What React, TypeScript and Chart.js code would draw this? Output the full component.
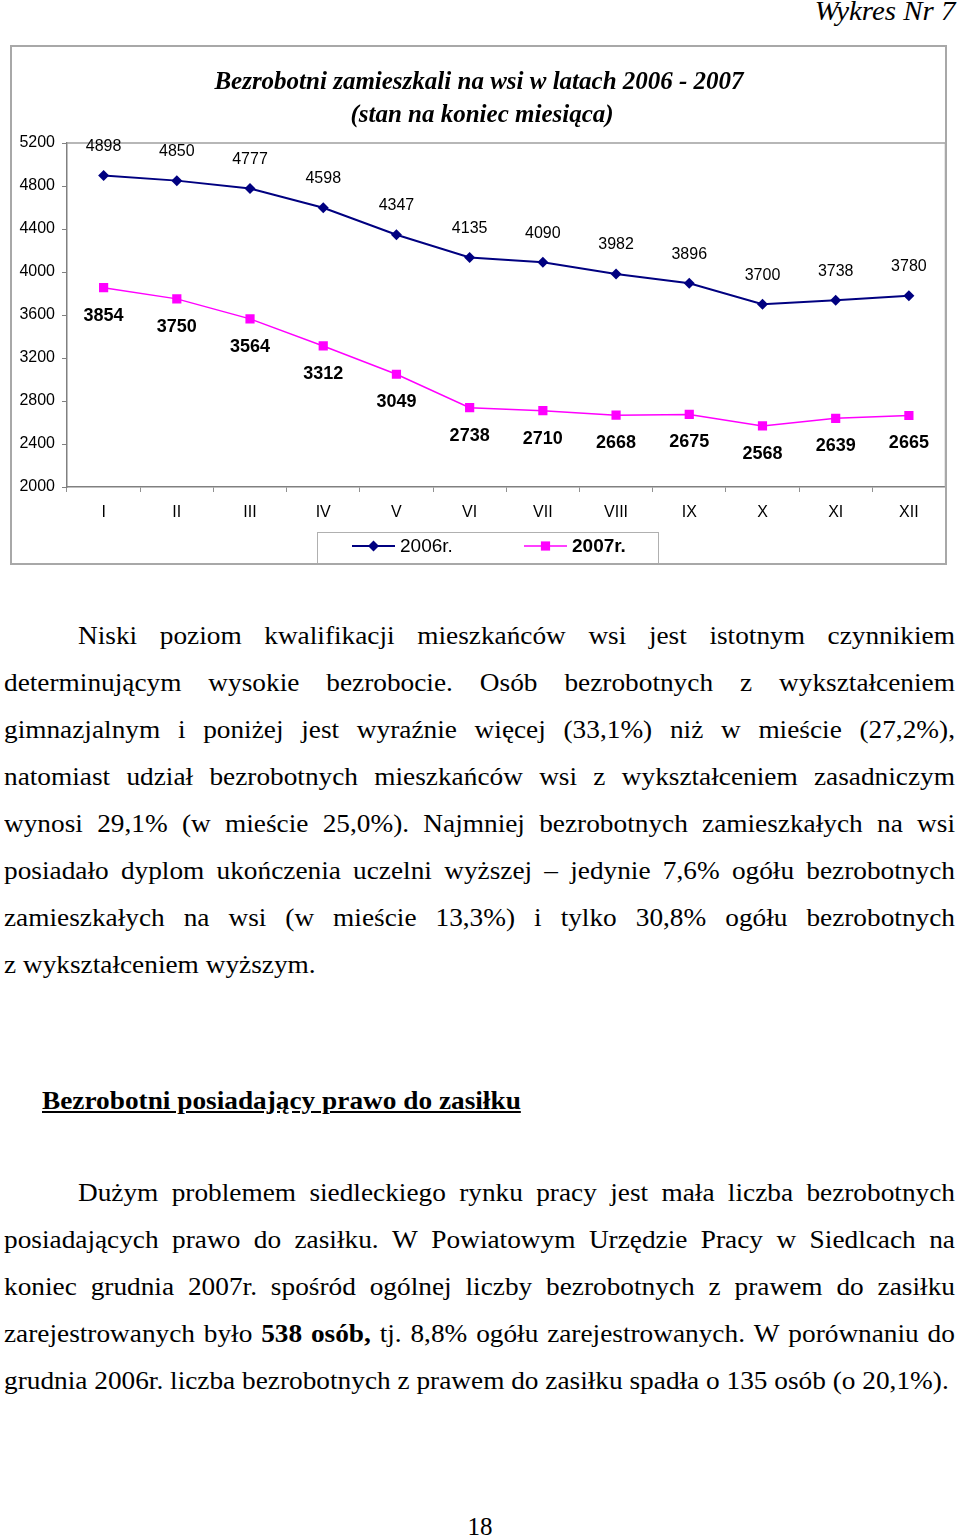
import React, { useEffect, useRef } from "react";
import { Chart, registerables } from "chart.js";

Chart.register(...registerables);

// ---------- chart data ----------
const months = ["I", "II", "III", "IV", "V", "VI", "VII", "VIII", "IX", "X", "XI", "XII"];
const series2006 = [4898, 4850, 4777, 4598, 4347, 4135, 4090, 3982, 3896, 3700, 3738, 3780];
const series2007 = [3854, 3750, 3564, 3312, 3049, 2738, 2710, 2668, 2675, 2568, 2639, 2665];
const seriesLabels = ["2006r.", "2007r."];
const chartTitle = ["Bezrobotni zamieszkali na wsi w latach 2006 - 2007", "(stan na koniec miesiąca)"];
const yMin = 2000;
const yMax = 5200;
const yStep = 400;

// ---------- page text ----------
const para1 = [
  "Niski poziom kwalifikacji mieszkańców wsi jest istotnym czynnikiem",
  "determinującym wysokie bezrobocie. Osób bezrobotnych z wykształceniem",
  "gimnazjalnym i poniżej jest wyraźnie więcej (33,1%) niż w mieście (27,2%),",
  "natomiast udział bezrobotnych mieszkańców wsi z wykształceniem zasadniczym",
  "wynosi 29,1% (w mieście 25,0%). Najmniej bezrobotnych zamieszkałych na wsi",
  "posiadało dyplom ukończenia uczelni wyższej – jedynie 7,6% ogółu bezrobotnych",
  "zamieszkałych na wsi (w mieście 13,3%) i tylko 30,8% ogółu bezrobotnych",
  "z wykształceniem wyższym.",
];
const heading = "Bezrobotni posiadający prawo do zasiłku";
const para2 = [
  "Dużym problemem siedleckiego rynku pracy jest mała liczba bezrobotnych",
  "posiadających prawo do zasiłku. W Powiatowym Urzędzie Pracy w Siedlcach na",
  "koniec grudnia 2007r. spośród ogólnej liczby bezrobotnych z prawem do zasiłku",
  "zarejestrowanych było **538** **osób,** tj. 8,8% ogółu zarejestrowanych. W porównaniu do",
  "grudnia 2006r. liczba bezrobotnych z prawem do zasiłku spadła o 135 osób (o 20,1%).",
];

const SANS = '"Liberation Sans", Arial, sans-serif';
const SERIF = '"Liberation Serif", "Times New Roman", serif';
const SX = 1.092; // horizontal stretch of the scanned text

function renderWord(w: string, i: number) {
  const m = w.match(/^\*\*(.*)\*\*$/);
  if (m) return <b key={i}>{m[1]}</b>;
  return <span key={i}>{w}</span>;
}

function TextLine({ text, justify, indent }: { text: string; justify: boolean; indent?: number }) {
  const words = text.split(" ");
  if (justify) {
    return (
      <div
        style={{
          display: "flex",
          justifyContent: "space-between",
          columnGap: 3,
          height: 47,
          lineHeight: "47px",
          paddingLeft: indent || 0,
          whiteSpace: "nowrap",
        }}
      >
        {words.map((w, i) => renderWord(w, i))}
      </div>
    );
  }
  return (
    <div style={{ height: 47, lineHeight: "47px", paddingLeft: indent || 0, whiteSpace: "pre" }}>
      {words.map((w, i) => (
        <React.Fragment key={i}>
          {i > 0 ? " " : ""}
          {renderWord(w, i)}
        </React.Fragment>
      ))}
    </div>
  );
}

function Paragraph({ lines, top }: { lines: string[]; top: number }) {
  const inner = 951 / SX;
  return (
    <div
      style={{
        position: "absolute",
        left: 4,
        top,
        width: inner,
        transform: `scaleX(${SX})`,
        transformOrigin: "left top",
      }}
    >
      {lines.map((l, i) => (
        <TextLine key={i} text={l} justify={i < lines.length - 1} indent={i === 0 ? 74 / SX : 0} />
      ))}
    </div>
  );
}

function drawMarker(ctx: CanvasRenderingContext2D, style: string, x: number, y: number, r: number, color: string) {
  ctx.save();
  ctx.fillStyle = color;
  ctx.beginPath();
  if (style === "rectRot") {
    ctx.moveTo(x, y - r);
    ctx.lineTo(x + r, y);
    ctx.lineTo(x, y + r);
    ctx.lineTo(x - r, y);
  } else {
    const h = r * Math.SQRT1_2;
    ctx.rect(x - h, y - h, 2 * h, 2 * h);
  }
  ctx.closePath();
  ctx.fill();
  ctx.restore();
}

const FRAME_W = 936;

const decorPlugin = {
  id: "decor",
  afterDatasetsDraw(chart: any) {
    const { ctx, chartArea } = chart;
    ctx.save();
    // top and right border of plot area
    ctx.strokeStyle = "#a0a0a0";
    ctx.lineWidth = 1.5;
    ctx.beginPath();
    ctx.moveTo(chartArea.left, chartArea.top);
    ctx.lineTo(chartArea.right, chartArea.top);
    ctx.lineTo(chartArea.right, chartArea.bottom);
    ctx.stroke();

    // data labels
    ctx.fillStyle = "#000";
    ctx.textAlign = "center";
    ctx.textBaseline = "middle";
    chart.data.datasets.forEach((ds: any, di: number) => {
      const meta = chart.getDatasetMeta(di);
      ctx.font = di === 0 ? `16px ${SANS}` : `bold 18px ${SANS}`;
      meta.data.forEach((pt: any, i: number) => {
        const v = ds.data[i];
        const y = di === 0 ? pt.y - 29 : pt.y + 28;
        ctx.fillText(String(v), pt.x, y);
      });
    });

    // title
    ctx.font = `italic bold 25px ${SERIF}`;
    ctx.textBaseline = "alphabetic";
    const cx = FRAME_W / 2;
    ctx.fillText(chartTitle[0], cx, 43);
    ctx.fillText(chartTitle[1], cx + 3, 76);

    // legend
    const bw = 341;
    const bh = 32;
    const bx = 306;
    const by = chart.height - bh;
    ctx.strokeStyle = "#b0b0b0";
    ctx.lineWidth = 1;
    ctx.strokeRect(bx + 0.5, by + 0.5, bw, bh);
    const ly = by + 14;
    const starts = [35, 207];
    chart.data.datasets.forEach((ds: any, di: number) => {
      const sx = bx + starts[di];
      ctx.strokeStyle = ds.borderColor;
      ctx.lineWidth = ds.borderWidth;
      ctx.beginPath();
      ctx.moveTo(sx, ly);
      ctx.lineTo(sx + 43, ly);
      ctx.stroke();
      drawMarker(ctx, ds.pointStyle, sx + 21.5, ly, ds.pointRadius, ds.backgroundColor);
      ctx.fillStyle = "#000";
      ctx.font = di === 0 ? `19px ${SANS}` : `bold 19px ${SANS}`;
      ctx.textAlign = "left";
      ctx.textBaseline = "middle";
      ctx.fillText(ds.label, sx + 48, ly + 1);
    });
    ctx.restore();
  },
};

function LineChart() {
  const ref = useRef<HTMLCanvasElement | null>(null);
  useEffect(() => {
    if (!ref.current) return;
    const chart = new Chart(ref.current, {
      type: "line",
      data: {
        labels: months,
        datasets: [
          {
            label: seriesLabels[0],
            data: series2006,
            borderColor: "#000080",
            backgroundColor: "#000080",
            borderWidth: 2,
            pointStyle: "rectRot",
            pointRadius: 5.5,
            pointBorderWidth: 0,
            tension: 0,
          },
          {
            label: seriesLabels[1],
            data: series2007,
            borderColor: "#ff00ff",
            backgroundColor: "#ff00ff",
            borderWidth: 1.5,
            pointStyle: "rect",
            pointRadius: 6.5,
            pointBorderWidth: 0,
            tension: 0,
          },
        ],
      } as any,
      options: {
        animation: false,
        responsive: true,
        maintainAspectRatio: false,
        layout: { padding: { top: 97, right: 2, bottom: 37, left: 0 } },
        plugins: {
          legend: { display: false },
          title: { display: false },
          tooltip: { enabled: false },
        },
        scales: {
          x: {
            type: "category",
            offset: true,
            grid: { offset: true, drawOnChartArea: false, tickLength: 5, color: "#909090" },
            border: { color: "#808080", width: 1.5 },
            ticks: { color: "#000", font: { family: SANS, size: 16 }, padding: 11, maxRotation: 0, autoSkip: false },
            afterFit: (s: any) => {
              s.height = 40;
            },
          },
          y: {
            min: yMin,
            max: yMax,
            ticks: {
              stepSize: yStep,
              color: "#000",
              font: { family: SANS, size: 16 },
              padding: 7,
              callback: (v: any) => String(v),
            },
            grid: { drawOnChartArea: false, tickLength: 5, color: "#808080" },
            border: { color: "#808080", width: 1.5 },
            afterFit: (s: any) => {
              s.width = 56;
            },
          },
        },
      } as any,
      plugins: [decorPlugin],
    });
    return () => chart.destroy();
  }, []);
  return <canvas ref={ref} />;
}

export default function App() {
  return (
    <div
      style={{
        position: "absolute",
        left: 0,
        top: 0,
        width: 960,
        height: 1537,
        background: "#fff",
        fontFamily: SERIF,
        fontSize: 25,
        color: "#000",
        overflow: "hidden",
      }}
    >
      <div
        style={{
          position: "absolute",
          right: 5,
          top: -2,
          fontStyle: "italic",
          fontSize: 27,
          lineHeight: "27px",
          transform: "scaleX(1.07)",
          transformOrigin: "right top",
        }}
      >
        Wykres Nr 7
      </div>

      <div style={{ position: "absolute", left: 11, top: 46, width: FRAME_W + 5, height: 518 }}>
        <LineChart />
      </div>
      <div
        style={{
          position: "absolute",
          left: 10,
          top: 45,
          width: 937,
          height: 520,
          border: "2px solid #a8a8a8",
          boxSizing: "border-box",
          pointerEvents: "none",
        }}
      />

      <Paragraph lines={para1} top={612} />

      <div
        style={{
          position: "absolute",
          left: 42,
          top: 1077,
          fontWeight: "bold",
          textDecoration: "underline",
          lineHeight: "47px",
          whiteSpace: "nowrap",
          transform: `scaleX(${SX})`,
          transformOrigin: "left top",
        }}
      >
        {heading}
      </div>

      <Paragraph lines={para2} top={1169} />

      <div style={{ position: "absolute", left: 0, width: 960, top: 1503, textAlign: "center", lineHeight: "47px" }}>
        18
      </div>
    </div>
  );
}
